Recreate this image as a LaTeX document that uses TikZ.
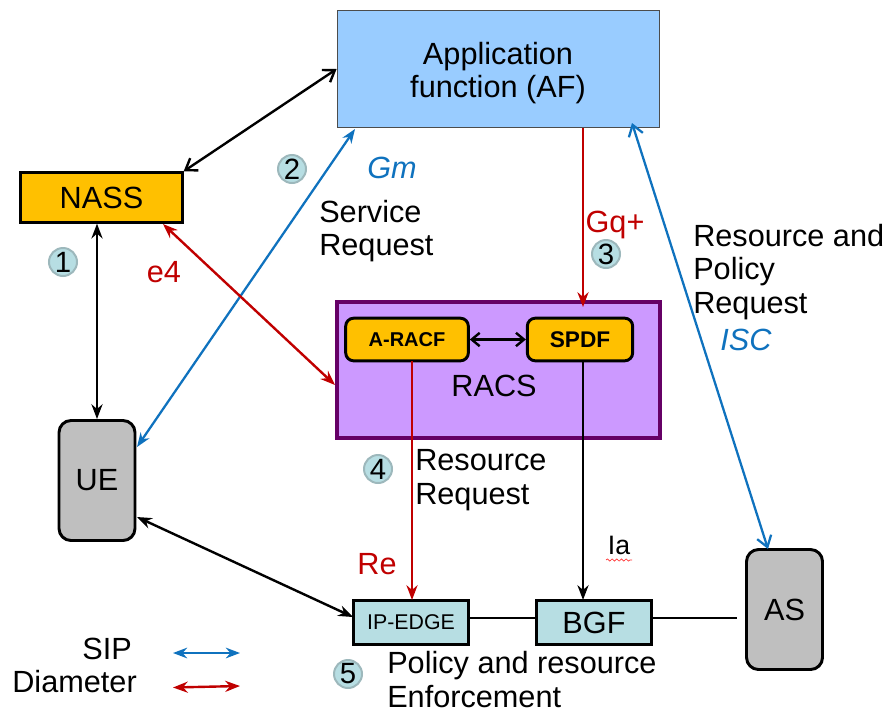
\documentclass[tikz,border=0pt]{standalone}
\usepackage{fontspec}
\setmainfont{Liberation Sans}
\usetikzlibrary{arrows.meta,decorations.pathmorphing}
\definecolor{afblue}{HTML}{99CCFF}
\definecolor{nassgold}{HTML}{FFC000}
\definecolor{uegray}{HTML}{BFBFBF}
\definecolor{racsfill}{HTML}{CC99FF}
\definecolor{racsline}{HTML}{660066}
\definecolor{edgefill}{HTML}{B7DEE3}
\definecolor{stepline}{HTML}{9DB8BC}
\definecolor{sipblue}{HTML}{0F72BE}
\definecolor{diared}{HTML}{C00000}
\begin{document}
\begin{tikzpicture}
	[x=.75pt,y=-.75pt,
	every node/.style={inner sep=0pt,font=\fontsize{23}{25}\selectfont},
	goldbox/.style={draw,fill=nassgold,line width=2.2pt},
	graybox/.style={draw,fill=uegray,line width=2.2pt,rounded corners=9pt,minimum width=57pt,minimum height=90pt},
	edgebox/.style={draw,fill=edgefill,line width=2.2pt,minimum width=86pt,minimum height=33pt},
	stepnum/.style={circle,draw=stepline,fill=edgefill,line width=1.5pt,minimum size=21pt,font=\fontsize{22}{24}\selectfont},
	textlabel/.style={anchor=west,align=left},
	sip/.style={draw=sipblue,line width=1.7pt,Stealth-Stealth},
	diameter/.style={draw=diared,line width=1.8pt},
	plain/.style={draw=black,line width=1.8pt}]
	\useasboundingbox (0,0) rectangle (884,714);

	\node[draw=black!70,fill=afblue,line width=.8pt,minimum width=242pt,minimum height=88pt] (af) at (498.5,69) {};
	\node[align=center] (aflabel) at (498,73) {Application\\function (AF)};
	\node[goldbox,minimum width=121pt,minimum height=37pt] (nass) at (101.5,197.5) {NASS};
	\node[graybox] (ue) at (97,480.5) {UE};
	\node[draw=racsline,fill=racsfill,line width=3.4pt,minimum width=242pt,minimum height=102pt] (racs) at (498.5,370) {};
	\node (racslabel) at (494,386) {RACS};
	\node[goldbox,rounded corners=6pt,minimum width=92pt,minimum height=32pt,font=\fontsize{15}{17}\bfseries] (aracf) at (407,339.5) {A-RACF};
	\node[goldbox,rounded corners=6pt,minimum width=79pt,minimum height=32pt,font=\fontsize{17}{19}\bfseries] (spdf) at (580,339.5) {SPDF};
	\node[edgebox,font=\fontsize{16}{18}\selectfont] (ipedge) at (411,622.5) {IP-EDGE};
	\node[edgebox] (bgf) at (594,622.5) {BGF};
	\node[graybox] (as) at (784.5,609.5) {AS};

	\node[stepnum] (s1) at (63,262) {1};
	\node[stepnum] (s2) at (292,169) {2};
	\node[stepnum] (s3) at (606,254) {3};
	\node[stepnum] (s4) at (378,469) {4};
	\node[stepnum] (s5) at (348,674) {5};

	\node[textlabel] (servicereq) at (319,231) {Service\\Request};
	\node[textlabel] (resourcereq) at (415,480) {Resource\\Request};
	\node[textlabel] (policyreq) at (693,272) {Resource and\\Policy\\Request};
	\node[textlabel] (enforce) at (387,679.5) {Policy and resource\\Enforcement};
	\node[text=sipblue,font=\fontsize{23}{25}\itshape] (gm) at (392,168) {Gm};
	\node[text=sipblue,font=\fontsize{23}{25}\itshape] (isc) at (746,340) {ISC};
	\node[text=diared] (gq) at (615,225) {Gq+};
	\node[text=diared] (e4) at (164,272) {e4};
	\node[text=diared] (re) at (377,564) {Re};
	\node[font=\fontsize{20}{22}\selectfont] (ia) at (619,545) {Ia};
	\node[anchor=east] (siplabel) at (132,649) {SIP};
	\node[anchor=east] (dialabel) at (137,682) {Diameter};

	\coordinate (afgm) at (355,129);
	\coordinate (uegm) at (137,447);
	\coordinate (afisc) at (632,123);
	\coordinate (asisc) at (768,549);
	\coordinate (nasse4) at (163,224);
	\coordinate (racse4) at (335,385);
	\coordinate (afgq) at (583,128);
	\coordinate (racsgq) at (583,307);
	\coordinate (ueedge) at (137,517);
	\coordinate (edgeue) at (353,617);
	\coordinate (racfre) at (412,361);
	\coordinate (edgere) at (412,600);
	\coordinate (spdfia) at (583,361);
	\coordinate (bgfia) at (583,600);
	\coordinate (bgfout) at (652,618);
	\coordinate (asout) at (737,618);
	\coordinate (ipout) at (469,618);
	\coordinate (bgfin) at (536,618);
	\coordinate (sipa) at (173,653);
	\coordinate (sipb) at (240,653);
	\coordinate (diaa) at (173,687.5);
	\coordinate (diab) at (240,686);

	\draw[plain,{Straight Barb[length=8pt,width=11pt]}-{Straight Barb[length=8pt,width=11pt]}] (nass.north east) -- (af.west);
	\draw[plain,Stealth-Stealth] (ue.north) -- (ue.north |- nass.south);
	\draw[plain,{Straight Barb[length=6pt,width=10pt]}-{Straight Barb[length=6pt,width=10pt]}] (aracf.east) -- (spdf.west);
	\draw[plain,Stealth-Stealth] (ueedge) -- (edgeue);
	\draw[plain,-Stealth] (spdfia) -- (bgfia);
	\draw[plain] (ipout) -- (bgfin);
	\draw[plain] (bgfout) -- (asout);

	\draw[sip] (afgm) -- (uegm);
	\draw[sip,{Straight Barb[length=8pt,width=11pt]}-{Straight Barb[length=8pt,width=11pt]}] (afisc) -- (asisc);
	\draw[sip] (sipa) -- (sipb);

	\foreach \from/\to in {nasse4/racse4,diaa/diab}
	\draw[diameter,Stealth-Stealth] (\from) -- (\to);
	\foreach \from/\to in {afgq/racsgq,racfre/edgere}
	\draw[diameter,-Stealth] (\from) -- (\to);

	\draw[red!80,line width=.5pt,decorate,decoration={snake,amplitude=.8pt,segment length=3.5pt}] (606,560) -- (632,560);
\end{tikzpicture}
\end{document}
